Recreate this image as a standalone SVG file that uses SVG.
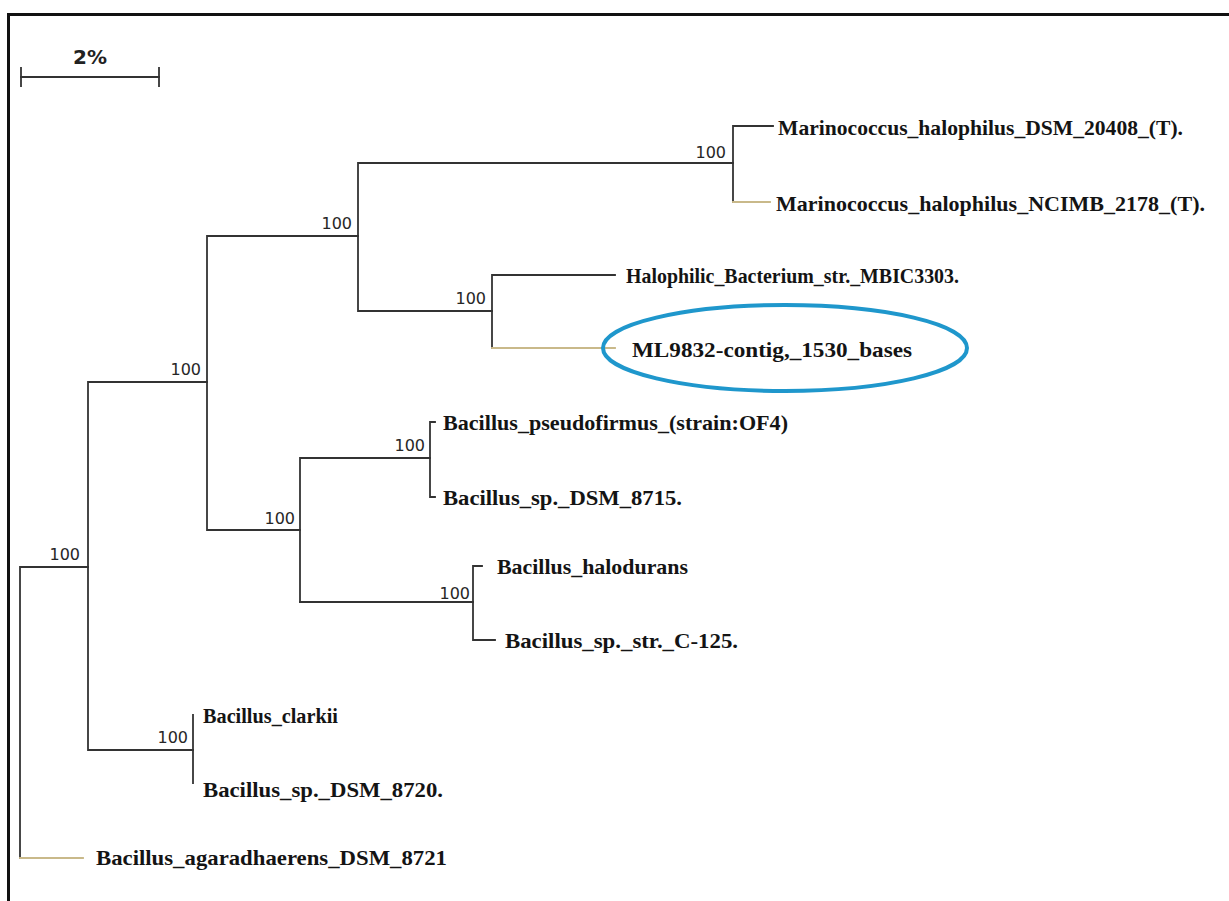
<svg xmlns="http://www.w3.org/2000/svg" width="1229" height="901" viewBox="0 0 1229 901">
<style>
.br{stroke:#333;stroke-width:1.8;fill:none;stroke-linecap:square}
.tn{stroke:#c9b98a}
.lb{font-family:"Liberation Serif","Times New Roman",serif;font-weight:bold;font-size:22px;fill:#141414}
.bs{font-family:"DejaVu Sans",Verdana,sans-serif;font-size:16px;fill:#262626}
</style>
<rect x="0" y="0" width="1229" height="901" fill="#ffffff"/>
<rect x="8.5" y="14.5" width="1240" height="900" fill="none" stroke="#111" stroke-width="3"/>
<g id="scalebar">
<line class="br" x1="21" y1="77" x2="159" y2="77" stroke-width="2.2"/>
<line class="br" x1="21" y1="68" x2="21" y2="86" stroke="#888" stroke-width="1"/>
<line class="br" x1="159" y1="68" x2="159" y2="86"/>
<text x="90" y="64" text-anchor="middle" font-family="DejaVu Sans,sans-serif" font-weight="bold" font-size="20" fill="#222">2%</text>
</g>
<g id="connectors">
<path class="br" d="M20,567 V858 M20,567 H88"/>
<path class="br tn" d="M20,858 H83"/>
<path class="br" d="M88,382 V750 M88,382 H207 M88,750 H193"/>
<path class="br" d="M193,715 V783"/>
<path class="br" d="M207,236 V530 M207,236 H358 M207,530 H300"/>
<path class="br" d="M358,163 V311 M358,163 H733 M358,311 H492"/>
<path class="br" d="M733,126 V202 M733,126 H773"/>
<path class="br tn" d="M733,202 H770"/>
<path class="br" d="M492,275 V348 M492,275 H615"/>
<path class="br tn" d="M492,348 H615"/>
<path class="br" d="M300,458 V602 M300,458 H430"/>
<path class="br" d="M300,602 H473" stroke="#7a8aa0"/>
<path class="br" d="M430,422 V497 M430,422 H435 M430,497 H435"/>
<path class="br" d="M473,566 V640 M473,566 H482 M473,640 H495"/>
</g>
<g id="bootstrap">
<text class="bs" x="80" y="560" text-anchor="end">100</text>
<text class="bs" x="201" y="375" text-anchor="end">100</text>
<text class="bs" x="188" y="743" text-anchor="end">100</text>
<text class="bs" x="352" y="229" text-anchor="end">100</text>
<text class="bs" x="295" y="524" text-anchor="end">100</text>
<text class="bs" x="726" y="158" text-anchor="end">100</text>
<text class="bs" x="486" y="304" text-anchor="end">100</text>
<text class="bs" x="425" y="451" text-anchor="end">100</text>
<text class="bs" x="470" y="599" text-anchor="end">100</text>
</g>
<g id="n-marino-dsm"><text class="lb" x="778" y="135" textLength="405" lengthAdjust="spacingAndGlyphs">Marinococcus_halophilus_DSM_20408_(T).</text></g>
<g id="n-marino-ncimb"><text class="lb" x="776" y="211" textLength="429" lengthAdjust="spacingAndGlyphs">Marinococcus_halophilus_NCIMB_2178_(T).</text></g>
<g id="n-halophilic"><text class="lb" x="626" y="283" textLength="333" lengthAdjust="spacingAndGlyphs">Halophilic_Bacterium_str._MBIC3303.</text></g>
<g id="n-ml9832">
<ellipse cx="785" cy="348" rx="182" ry="43" fill="none" stroke="#1f97cc" stroke-width="4"/>
<text class="lb" x="632" y="357" textLength="280" lengthAdjust="spacingAndGlyphs">ML9832-contig,_1530_bases</text>
</g>
<g id="n-pseudofirmus"><text class="lb" x="443" y="430" textLength="345" lengthAdjust="spacingAndGlyphs">Bacillus_pseudofirmus_(strain:OF4)</text></g>
<g id="n-dsm8715"><text class="lb" x="443" y="505" textLength="239" lengthAdjust="spacingAndGlyphs">Bacillus_sp._DSM_8715.</text></g>
<g id="n-halodurans"><text class="lb" x="497" y="574" textLength="191" lengthAdjust="spacingAndGlyphs">Bacillus_halodurans</text></g>
<g id="n-c125"><text class="lb" x="505" y="648" textLength="233" lengthAdjust="spacingAndGlyphs">Bacillus_sp._str._C-125.</text></g>
<g id="n-clarkii"><text class="lb" x="203" y="723" textLength="135" lengthAdjust="spacingAndGlyphs">Bacillus_clarkii</text></g>
<g id="n-dsm8720"><text class="lb" x="203" y="797" textLength="240" lengthAdjust="spacingAndGlyphs">Bacillus_sp._DSM_8720.</text></g>
<g id="n-agaradhaerens"><text class="lb" x="96" y="865" textLength="351" lengthAdjust="spacingAndGlyphs">Bacillus_agaradhaerens_DSM_8721</text></g>
</svg>
